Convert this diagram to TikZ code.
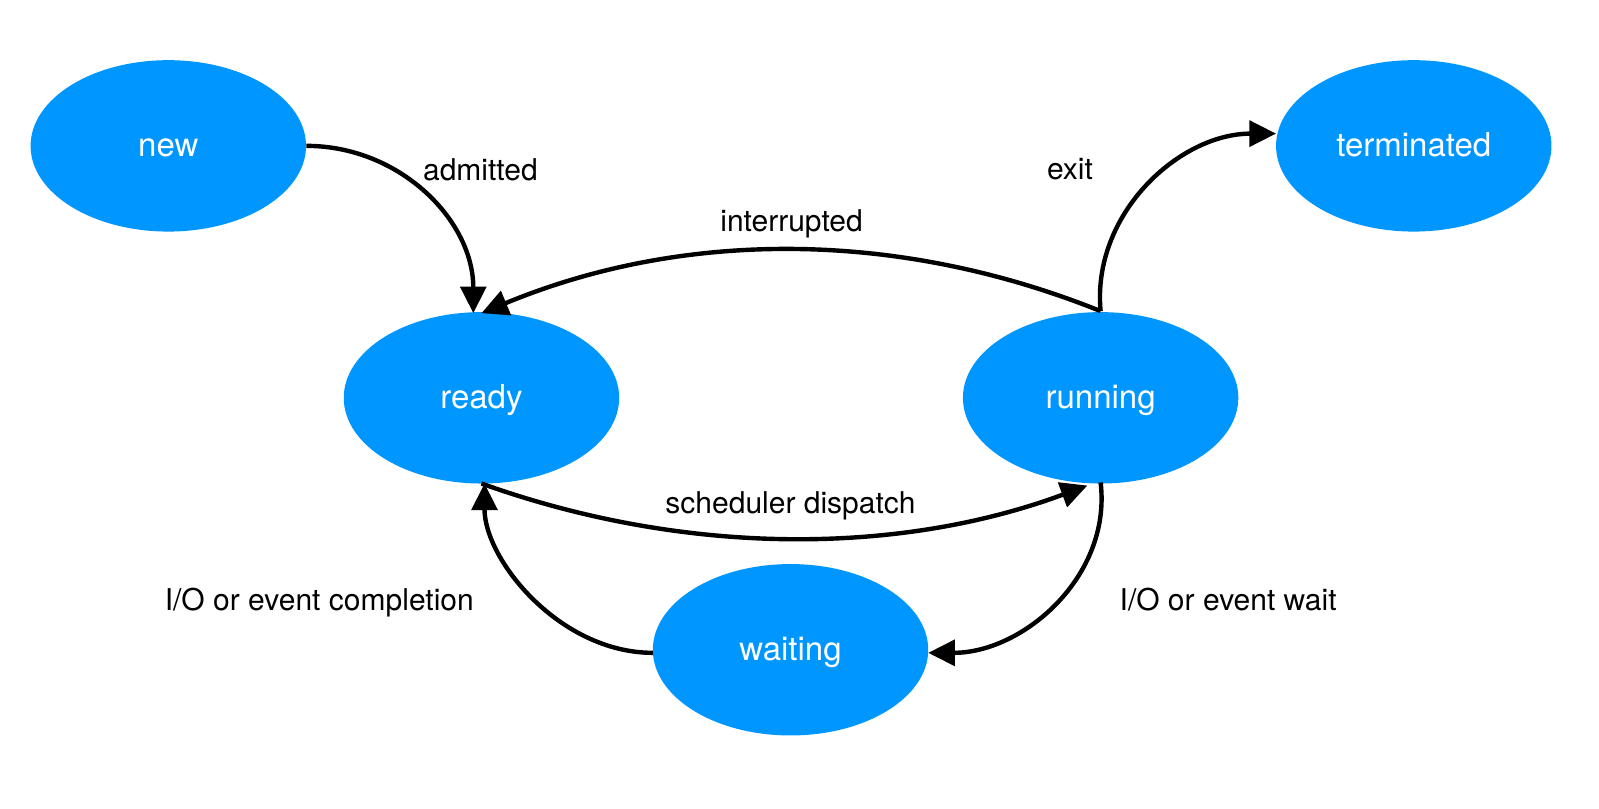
\documentclass[tikz,border=0pt]{standalone}
\usepackage{fontspec}
\setmainfont{TeX Gyre Heros}
\usetikzlibrary{arrows.meta,shapes.geometric}
\definecolor{stateblue}{RGB}{0,150,255}
\begin{document}
\begin{tikzpicture}[x=0.51pt,y=-0.51pt,
  state/.style={ellipse,fill=stateblue,draw=none,minimum width=137.7pt,minimum height=85.7pt,inner sep=0pt,text=white,text height=13pt,text depth=2pt,font=\fontsize{16.5}{19}\selectfont},
  lbl/.style={font=\fontsize{15}{18}\selectfont,text=black,inner sep=0pt},
  conn/.style={line width=2.2pt,-{Triangle[length=13.3pt,width=12.8pt]}}]
\useasboundingbox (0,0) rectangle (1567.6,792.2);
\node[state] (new) at (165,143) {new};
\node[state] (ready) at (472,390) {ready};
\node[state] (running) at (1079,390) {running};
\node[state] (term) at (1386,143) {terminated};
\node[state] (wait) at (775,637) {waiting};
\coordinate (rtop) at (1079,305);
\coordinate (rdtop) at (464,307);
\coordinate (rdtop2) at (472,307);
\coordinate (tleft) at (1251,131);
\coordinate (rdbot) at (472,474);
\coordinate (rdbot2) at (475,474);
\coordinate (rbot) at (1066,476);
\coordinate (rbot2) at (1079,473);
\coordinate (wright) at (910,640);
\coordinate (wleft) at (640,640);
\draw[conn] (new.east) .. controls (392,143) and (464,216) .. (rdtop);
\draw[conn] (rtop) .. controls (880,225) and (670,225) .. (rdtop2);
\draw[conn] (rtop) .. controls (1070,210) and (1156,131) .. (tleft);
\draw[conn] (rdbot) .. controls (670,545) and (880,545) .. (rbot);
\draw[conn] (rbot2) .. controls (1090,565) and (1003,640) .. (wright);
\draw[conn] (wleft) .. controls (549,640) and (475,549) .. (rdbot2);
\node[lbl] (l1) at (471,166) {admitted};
\node[lbl] (l2) at (1049,166) {exit};
\node[lbl] (l3) at (776,219) {interrupted};
\node[lbl] (l4) at (775,496) {scheduler dispatch};
\node[lbl] (l5) at (313,591) {I/O or event completion};
\node[lbl] (l6) at (1204,588) {I/O or event wait};
\end{tikzpicture}
\end{document}
